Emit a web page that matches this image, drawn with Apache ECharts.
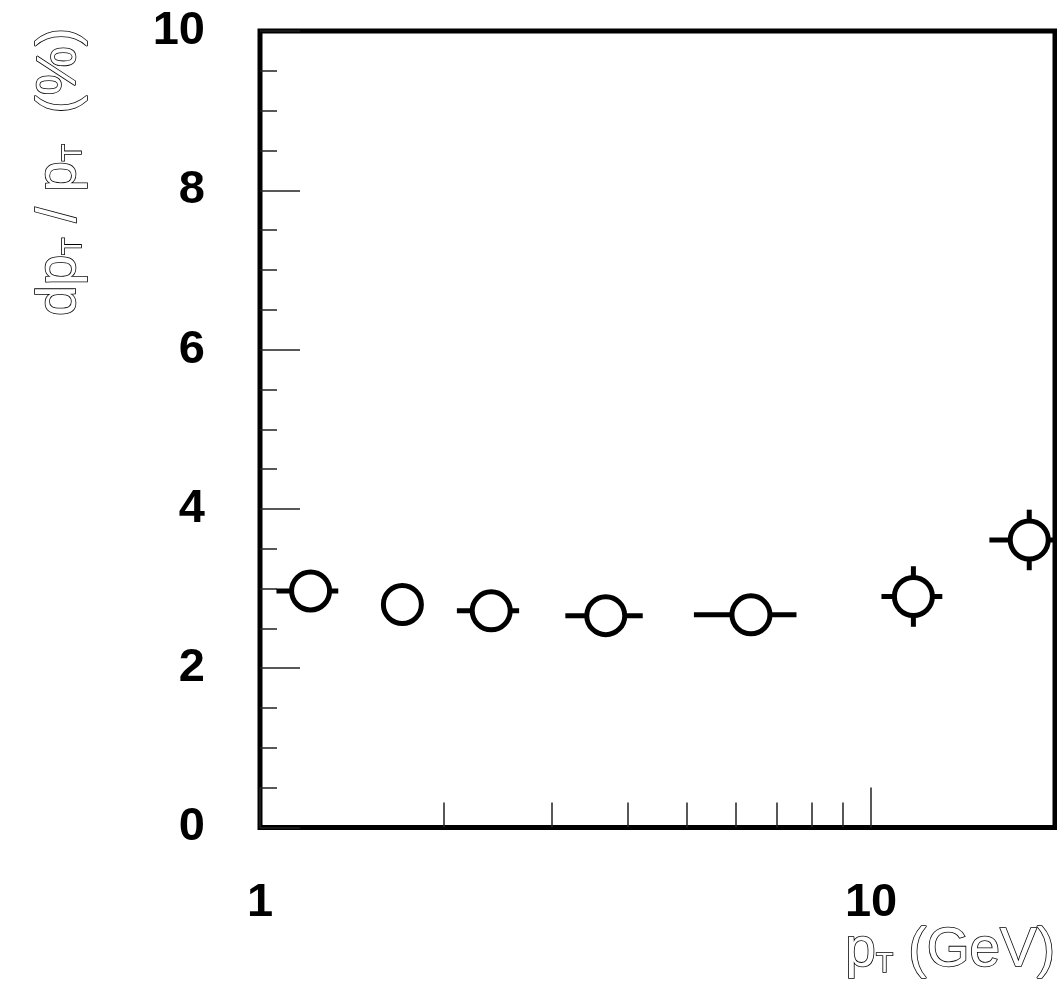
<!DOCTYPE html>
<html>
<head>
<meta charset="utf-8">
<script src="https://cdn.jsdelivr.net/npm/echarts@6/dist/echarts.min.js"></script>
<style>
  html, body { margin: 0; padding: 0; background: #fff; }
  #chart { width: 1057px; height: 983px; }
</style>
</head>
<body>
<div id="chart"></div>
<script>
// Transverse momentum of each bin (GeV) and its bin extent
const ptValues = [1.21, 1.71, 2.39, 3.68, 6.36, 11.73, 18.15];
const ptLow    = [1.064, 1.60, 2.10, 3.16, 5.13, 10.40, 15.62];
const ptHigh   = [1.343, 1.82, 2.655, 4.23, 7.55, 13.08, 21.5];

// Momentum resolution dpT/pT (%) and its uncertainty
const resolution = [2.97, 2.80, 2.72, 2.66, 2.67, 2.90, 3.61];
const resError   = [0.10, 0.10, 0.10, 0.10, 0.10, 0.38, 0.38];

// Axis ticks
const xMajorTicks = [1, 10];
const xMinorTicks = [2, 3, 4, 5, 6, 7, 8, 9];
const yTickStep = 2;

const FONT = '"Liberation Sans", Arial, Helvetica, sans-serif';

const points = ptValues.map((x, i) => [x, resolution[i]]);
const errorRows = ptValues.map((x, i) =>
  [x, resolution[i], ptLow[i], ptHigh[i], resolution[i] - resError[i], resolution[i] + resError[i]]);

function renderErrorBar(params, api) {
  const cs = params.coordSys;
  const clampX = v => Math.max(cs.x, Math.min(cs.x + cs.width, v));
  const y = api.value(1);
  const left = api.coord([api.value(2), y]);
  const right = api.coord([api.value(3), y]);
  const bottom = api.coord([api.value(0), api.value(4)]);
  const top = api.coord([api.value(0), api.value(5)]);
  const style = { stroke: '#000', lineWidth: 5, fill: null };
  return {
    type: 'group',
    children: [
      { type: 'line', shape: { x1: clampX(left[0]), y1: left[1], x2: clampX(right[0]), y2: right[1] }, style },
      { type: 'line', shape: { x1: bottom[0], y1: bottom[1], x2: top[0], y2: top[1] }, style }
    ]
  };
}

const chart = echarts.init(document.getElementById('chart'), null, { renderer: 'canvas' });

const hollow = { fill: '#fff', stroke: '#000', lineWidth: 1.6 };

chart.setOption({
  animation: false,
  backgroundColor: '#fff',
  grid: {
    left: 260, right: 2, top: 31, bottom: 155.5,
    show: true, borderColor: '#000', borderWidth: 5, backgroundColor: 'transparent'
  },
  xAxis: [
    {
      type: 'log', logBase: 10, min: 1, max: 20, position: 'bottom',
      axisLine: { show: false },
      splitLine: { show: false },
      axisTick: { show: true, inside: true, length: 40, customValues: xMajorTicks,
                  lineStyle: { color: '#222', width: 1.5 } },
      axisLabel: { show: true, customValues: xMajorTicks, margin: 52,
                   fontFamily: FONT, fontWeight: 'bold', fontSize: 47, color: '#000' }
    },
    {
      type: 'log', logBase: 10, min: 1, max: 20, position: 'bottom',
      axisLine: { show: false },
      splitLine: { show: false },
      axisTick: { show: true, inside: true, length: 25, customValues: xMinorTicks,
                  lineStyle: { color: '#222', width: 1.5 } },
      axisLabel: { show: false }
    }
  ],
  yAxis: {
    type: 'value', min: 0, max: 10, interval: yTickStep,
    axisLine: { show: false },
    splitLine: { show: false },
    axisTick: { show: true, inside: true, length: 40, lineStyle: { color: '#222', width: 1.5 } },
    minorTick: { show: true, splitNumber: 4, length: 17, lineStyle: { color: '#222', width: 1.5 } },
    axisLabel: { margin: 55, fontFamily: FONT, fontWeight: 'bold', fontSize: 47, color: '#000' }
  },
  graphic: [
    {
      type: 'text', x: 1055, y: 951, z: 10,
      style: Object.assign({
        text: 'p{s|T} (GeV)', font: '55px ' + FONT,
        textAlign: 'right', textVerticalAlign: 'middle',
        rich: { s: Object.assign({ fontSize: 28, fontFamily: FONT, verticalAlign: 'bottom' }, hollow) }
      }, hollow)
    },
    {
      type: 'text', x: 60, y: 172, rotation: Math.PI / 2, z: 10,
      style: Object.assign({
        text: 'dp{s|T} / p{s|T}  (%)', font: '55px ' + FONT,
        textAlign: 'center', textVerticalAlign: 'middle',
        rich: { s: Object.assign({ fontSize: 28, fontFamily: FONT, verticalAlign: 'bottom' }, hollow) }
      }, hollow)
    }
  ],
  series: [
    {
      type: 'custom',
      xAxisIndex: 0,
      renderItem: renderErrorBar,
      data: errorRows,
      z: 2
    },
    {
      type: 'scatter',
      xAxisIndex: 0,
      data: points,
      symbol: 'circle',
      symbolSize: 38,
      itemStyle: { color: '#fff', borderColor: '#000', borderWidth: 5, opacity: 1 },
      z: 3
    }
  ]
});
</script>
</body>
</html>
